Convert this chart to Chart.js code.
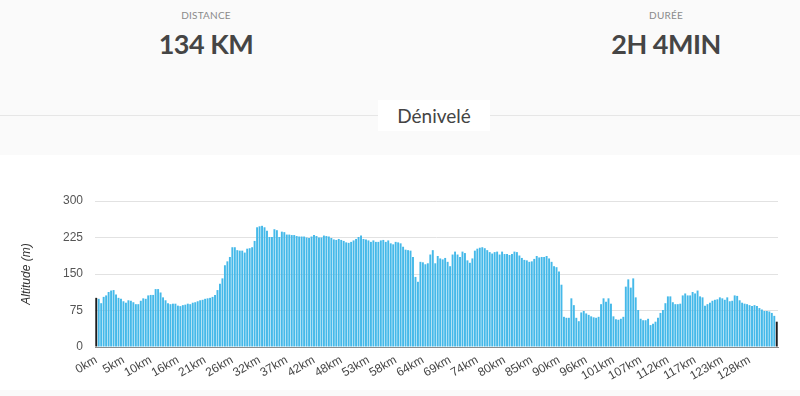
<!DOCTYPE html>
<html lang="fr">
<head>
<meta charset="utf-8">
<title>Dénivelé</title>
<script src="https://cdn.jsdelivr.net/npm/chart.js@4.4.1/dist/chart.umd.min.js"></script>
<style>
  html, body { margin: 0; padding: 0; }
  body {
    width: 800px; height: 396px; overflow: hidden; position: relative;
    background: #fafafa; font-family: "Lato", "Open Sans", sans-serif;
  }
  .stat { position: absolute; top: 0; width: 240px; text-align: center; }
  .stat .label { margin-top: 9px; font-size: 10px; color: #8a8a8a; letter-spacing: 0.2px; }
  .stat .value { margin-top: 6px; font-size: 27px; font-weight: 700; color: #454545; letter-spacing: -0.5px; }
  .divider { position: absolute; left: 0; right: 0; top: 115px; height: 1px; background: #e6e6e6; }
  .section-title {
    position: absolute; left: 378px; top: 100px; width: 112px; height: 31px; background: #fff;
    text-align: center; line-height: 31px; font-size: 19px; color: #444;
  }
  .panel { position: absolute; left: 0; top: 155px; width: 800px; height: 235px; background: #fff; }
</style>
</head>
<body>
<div class="stat" style="left:86px"><div class="label">DISTANCE</div><div class="value">134 KM</div></div>
<div class="stat" style="left:546px"><div class="label">DURÉE</div><div class="value">2H 4MIN</div></div>
<div class="divider"></div>
<div class="section-title">Dénivelé</div>
<div class="panel"><canvas id="elevationChart" width="800" height="235"></canvas></div>

<script>
// altitude (m) for each sample along the route
const altitudes = [
  101, 99, 90, 103, 106, 113, 116, 117, 108, 101,
  99, 94, 91, 96, 95, 92, 88, 88, 95, 100,
  99, 106, 107, 107, 119, 119, 112, 102, 96, 90,
  88, 89, 89, 85, 84, 86, 87, 89, 88, 91,
  92, 94, 96, 97, 99, 100, 101, 103, 107, 117,
  130, 141, 168, 176, 185, 205, 205, 199, 198, 198,
  194, 202, 203, 205, 218, 246, 248, 249, 246, 239,
  226, 226, 242, 240, 226, 237, 236, 231, 231, 230,
  230, 228, 227, 227, 227, 225, 224, 227, 230, 228,
  225, 225, 229, 228, 227, 224, 221, 220, 222, 220,
  218, 215, 214, 216, 219, 222, 226, 229, 222, 221,
  219, 216, 219, 216, 216, 219, 220, 216, 219, 213,
  211, 216, 215, 213, 206, 200, 199, 198, 185, 144,
  134, 175, 174, 170, 172, 190, 199, 172, 187, 182,
  180, 183, 175, 166, 190, 196, 190, 185, 196, 193,
  178, 173, 182, 198, 202, 204, 205, 203, 199, 195,
  192, 195, 196, 190, 196, 191, 191, 189, 191, 196,
  195, 188, 183, 179, 178, 175, 176, 181, 187, 184,
  185, 185, 187, 182, 175, 166, 164, 155, 128, 62,
  60, 60, 100, 86, 60, 53, 71, 74, 69, 66,
  63, 61, 60, 62, 88, 100, 93, 100, 89, 63,
  57, 56, 58, 62, 124, 139, 122, 141, 102, 76,
  58, 55, 55, 58, 45, 48, 52, 60, 70, 76,
  90, 104, 104, 92, 88, 88, 89, 106, 110, 106,
  106, 113, 110, 116, 104, 102, 85, 88, 91, 95,
  97, 98, 102, 100, 97, 102, 94, 95, 106, 105,
  96, 91, 89, 88, 86, 84, 86, 84, 80, 77,
  74, 74, 73, 70, 64, 52
];

// samples are taken every ~0.4865 km, label shows whole km
const KM_PER_SAMPLE = 0.4865;
const kmLabels = altitudes.map((_, i) => Math.floor(i * KM_PER_SAMPLE) + "km");
const LABEL_EVERY = 11;
const yTicks = [0, 75, 150, 225, 300];

Chart.defaults.font.family = "'Liberation Sans', Arial, sans-serif";

const lastIndex = altitudes.length - 1;

new Chart(document.getElementById("elevationChart"), {
  type: "bar",
  data: {
    labels: kmLabels,
    datasets: [{
      label: "Altitude (m)",
      data: altitudes,
      backgroundColor: ctx => (ctx.dataIndex === 0 || ctx.dataIndex === lastIndex) ? "#1e1e1e" : "#45b9e9",
      barPercentage: 1,
      categoryPercentage: 0.78,
    }],
  },
  options: {
    responsive: false,
    animation: false,
    layout: { padding: { top: 46, right: 22, left: 0, bottom: 0 } },
    plugins: { legend: { display: false }, tooltip: { enabled: false } },
    scales: {
      x: {
        grid: { display: false, drawTicks: false },
        border: { color: "#8c8c8c", width: 1 },
        ticks: {
          autoSkip: false,
          minRotation: 30,
          maxRotation: 30,
          padding: 6,
          color: "#444",
          font: { size: 12 },
          callback: function (value, index) {
            // no label on the final sample, like the original
            if (index === lastIndex) return "";
            return index % LABEL_EVERY === 0 ? this.getLabelForValue(value) : "";
          },
        },
        afterFit: scale => { scale.height = 43; },
      },
      y: {
        min: 0,
        max: 300,
        afterBuildTicks: scale => { scale.ticks = yTicks.map(v => ({ value: v })); },
        grid: { color: "#e2e2e2", drawTicks: false },
        border: { display: false },
        ticks: { padding: 12, color: "#555", font: { size: 12 } },
        title: {
          display: true,
          text: "Altitude (m)",
          color: "#333",
          font: { size: 12, style: "italic" },
          padding: { top: 19, bottom: 0 },
        },
        afterFit: scale => { scale.width = 95; },
      },
    },
  },
});
</script>
</body>
</html>
